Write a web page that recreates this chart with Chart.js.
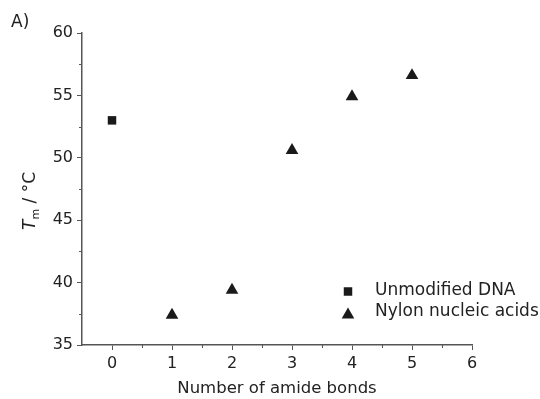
<!DOCTYPE html>
<html>
<head>
<meta charset="utf-8">
<script src="https://cdn.jsdelivr.net/npm/chart.js@4/dist/chart.umd.min.js"></script>
<style>
  html, body { margin: 0; background: #fff; }
  #wrap { width: 540px; height: 399px; position: relative; }
</style>
</head>
<body>
<div id="wrap"><canvas id="tmChart" width="540" height="399"></canvas></div>
<script>
// values
const dnaX = [0];
const dnaY = [53.0];
const nylonX = [1, 2, 3, 4, 5];
const nylonY = [37.4, 39.4, 50.6, 54.9, 56.6];
const seriesNames = ["Unmodified DNA", "Nylon nucleic acids"];

const xTicks = [0, 1, 2, 3, 4, 5, 6];
const yTicks = [35, 40, 45, 50, 55, 60];
const xMinor = [0.5, 1.5, 2.5, 3.5, 4.5, 5.5];
const yMinor = [37.5, 42.5, 47.5, 52.5, 57.5];

const FONT = "'DejaVu Sans', 'Liberation Sans', Arial, sans-serif";
const axisColor = "#555";
const textColor = "#222";
const markColor = "#1a1a1a";

function toPoints(xs, ys) {
  return xs.map((x, i) => ({ x: x, y: ys[i] }));
}

// minor ticks, y title, legend and panel letter
const extras = {
  id: "extras",
  afterDraw(chart) {
    const ctx = chart.ctx;
    const xs = chart.scales.x, ys = chart.scales.y;
    const area = chart.chartArea;

    ctx.save();
    ctx.strokeStyle = axisColor;
    ctx.lineWidth = 1;
    xMinor.forEach(v => {
      const px = Math.round(xs.getPixelForValue(v)) + 0.5;
      ctx.beginPath();
      ctx.moveTo(px, area.bottom);
      ctx.lineTo(px, area.bottom + 3);
      ctx.stroke();
    });
    yMinor.forEach(v => {
      const py = Math.round(ys.getPixelForValue(v)) + 0.5;
      ctx.beginPath();
      ctx.moveTo(area.left - 3, py);
      ctx.lineTo(area.left, py);
      ctx.stroke();
    });

    // y axis title: T_m / °C
    ctx.fillStyle = textColor;
    ctx.textBaseline = "alphabetic";
    ctx.textAlign = "left";
    const bigFont = "italic 17px " + FONT;
    const subFont = "11px " + FONT;
    const restFont = "17px " + FONT;
    ctx.font = bigFont;
    const wT = ctx.measureText("T").width;
    ctx.font = subFont;
    const wM = ctx.measureText("m").width;
    ctx.font = restFont;
    const wRest = ctx.measureText(" / °C").width;
    const total = wT + wM + wRest;
    ctx.save();
    ctx.translate(35, 201);
    ctx.rotate(-Math.PI / 2);
    let cx = -total / 2;
    ctx.font = bigFont;
    ctx.fillText("T", cx, 0);
    cx += wT;
    ctx.font = subFont;
    ctx.fillText("m", cx, 4);
    cx += wM;
    ctx.font = restFont;
    ctx.fillText(" / °C", cx, 0);
    ctx.restore();

    // panel letter
    ctx.font = "17px " + FONT;
    ctx.textBaseline = "middle";
    ctx.fillText("A)", 11, 23);

    // legend inside the plot
    const legY = [291.5, 313];
    chart.data.datasets.forEach((ds, i) => {
      ctx.fillStyle = markColor;
      Chart.helpers.drawPoint(ctx, {
        pointStyle: ds.pointStyle,
        radius: ds.pointRadius,
        rotation: 0,
        borderWidth: 0
      }, 348, legY[i] + (ds.pointStyle === "triangle" ? 1.8 : 0));
      ctx.fillStyle = textColor;
      ctx.font = "17px " + FONT;
      ctx.textBaseline = "middle";
      ctx.fillText(ds.label, 375, legY[i] - 1);
    });
    ctx.restore();
  }
};

const tickFont = { family: FONT, size: 16 };

new Chart(document.getElementById("tmChart"), {
  type: "scatter",
  data: {
    datasets: [
      {
        label: seriesNames[0],
        data: toPoints(dnaX, dnaY),
        pointStyle: "rect",
        pointRadius: 6,
        backgroundColor: markColor,
        borderColor: markColor,
        borderWidth: 0
      },
      {
        label: seriesNames[1],
        data: toPoints(nylonX, nylonY),
        pointStyle: "triangle",
        pointRadius: 7.3,
        backgroundColor: markColor,
        borderColor: markColor,
        borderWidth: 0
      }
    ]
  },
  options: {
    responsive: false,
    animation: false,
    devicePixelRatio: 1,
    layout: { padding: { top: 33, right: 68, left: 0, bottom: 0 } },
    plugins: {
      legend: { display: false },
      tooltip: { enabled: false }
    },
    scales: {
      x: {
        type: "linear",
        min: -0.5,
        max: 6,
        afterBuildTicks: s => { s.ticks = xTicks.map(v => ({ value: v })); },
        afterFit: s => { s.height = 54; },
        grid: { drawOnChartArea: false, tickLength: 5, color: axisColor, tickColor: axisColor },
        border: { color: axisColor, width: 1.5 },
        ticks: { font: tickFont, color: textColor, padding: 4, maxRotation: 0, autoSkip: false },
        title: {
          display: true,
          text: "Number of amide bonds",
          font: { family: FONT, size: 16.5 },
          color: textColor,
          padding: { top: 2, bottom: 0 }
        }
      },
      y: {
        type: "linear",
        min: 35,
        max: 60,
        afterBuildTicks: s => { s.ticks = yTicks.map(v => ({ value: v })); },
        afterFit: s => { s.width = 82; },
        grid: { drawOnChartArea: false, tickLength: 5, color: axisColor, tickColor: axisColor },
        border: { color: axisColor, width: 1.5 },
        ticks: { font: tickFont, color: textColor, padding: 4, autoSkip: false }
      }
    }
  },
  plugins: [extras]
});
</script>
</body>
</html>
